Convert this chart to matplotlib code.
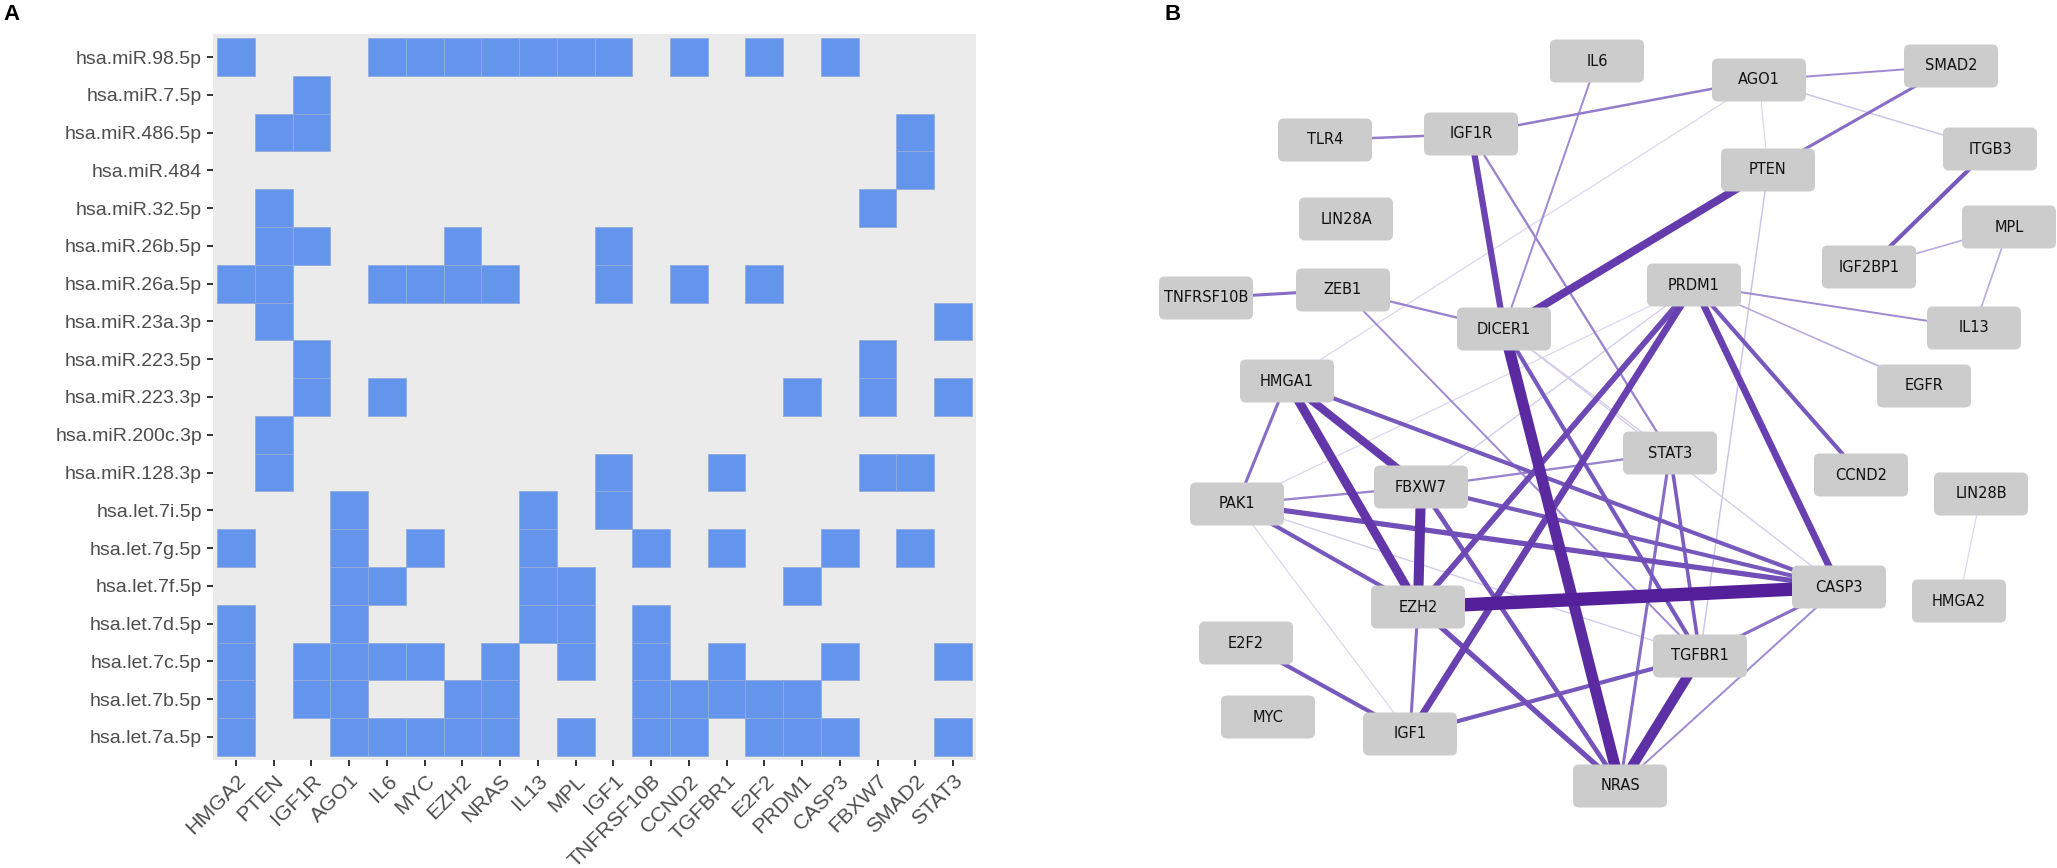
import matplotlib
matplotlib.use("Agg")
import matplotlib.pyplot as plt
from matplotlib.patches import FancyBboxPatch
from matplotlib.colors import LinearSegmentedColormap
import numpy as np

plt.rcParams['font.family'] = ['Liberation Sans', 'DejaVu Sans']

# ---------------- Panel A data ----------------
mirnas = ["hsa.miR.98.5p", "hsa.miR.7.5p", "hsa.miR.486.5p", "hsa.miR.484",
          "hsa.miR.32.5p", "hsa.miR.26b.5p", "hsa.miR.26a.5p", "hsa.miR.23a.3p",
          "hsa.miR.223.5p", "hsa.miR.223.3p", "hsa.miR.200c.3p", "hsa.miR.128.3p",
          "hsa.let.7i.5p", "hsa.let.7g.5p", "hsa.let.7f.5p", "hsa.let.7d.5p",
          "hsa.let.7c.5p", "hsa.let.7b.5p", "hsa.let.7a.5p"]
genes = ["HMGA2", "PTEN", "IGF1R", "AGO1", "IL6", "MYC", "EZH2", "NRAS", "IL13", "MPL",
         "IGF1", "TNFRSF10B", "CCND2", "TGFBR1", "E2F2", "PRDM1", "CASP3", "FBXW7",
         "SMAD2", "STAT3"]
targets = [
    ["HMGA2", "IL6", "MYC", "EZH2", "NRAS", "IL13", "MPL", "IGF1", "CCND2", "E2F2", "CASP3"],
    ["IGF1R"],
    ["PTEN", "IGF1R", "SMAD2"],
    ["SMAD2"],
    ["PTEN", "FBXW7"],
    ["PTEN", "IGF1R", "EZH2", "IGF1"],
    ["HMGA2", "PTEN", "IL6", "MYC", "EZH2", "NRAS", "IGF1", "CCND2", "E2F2"],
    ["PTEN", "STAT3"],
    ["IGF1R", "FBXW7"],
    ["IGF1R", "IL6", "PRDM1", "FBXW7", "STAT3"],
    ["PTEN"],
    ["PTEN", "IGF1", "TGFBR1", "FBXW7", "SMAD2"],
    ["AGO1", "IL13", "IGF1"],
    ["HMGA2", "AGO1", "MYC", "IL13", "TNFRSF10B", "TGFBR1", "CASP3", "SMAD2"],
    ["AGO1", "IL6", "IL13", "MPL", "PRDM1"],
    ["HMGA2", "AGO1", "IL13", "MPL", "TNFRSF10B"],
    ["HMGA2", "IGF1R", "AGO1", "IL6", "MYC", "NRAS", "MPL", "TNFRSF10B", "TGFBR1", "CASP3", "STAT3"],
    ["HMGA2", "IGF1R", "AGO1", "EZH2", "NRAS", "TNFRSF10B", "CCND2", "TGFBR1", "E2F2", "PRDM1"],
    ["HMGA2", "AGO1", "IL6", "MYC", "EZH2", "NRAS", "MPL", "TNFRSF10B", "CCND2", "E2F2", "PRDM1", "CASP3", "STAT3"],
]

# ---------------- Panel B data ----------------
node_names = ["IL6", "AGO1", "SMAD2", "TLR4", "IGF1R", "PTEN", "ITGB3", "LIN28A", "MPL",
              "IGF2BP1", "TNFRSF10B", "ZEB1", "PRDM1", "DICER1", "IL13", "HMGA1", "EGFR",
              "STAT3", "FBXW7", "CCND2", "LIN28B", "PAK1", "CASP3", "HMGA2", "EZH2",
              "E2F2", "TGFBR1", "MYC", "IGF1", "NRAS"]
node_x = [1597, 1759, 1951, 1325, 1471, 1768, 1990, 1346, 2009,
          1869, 1206, 1343, 1694, 1504, 1974, 1287, 1924,
          1670, 1421, 1861, 1981, 1237, 1839, 1959, 1418,
          1246, 1700, 1268, 1410, 1620]
node_y = [61, 80, 66, 140, 134, 170, 149, 219, 227,
          267, 298, 290, 285, 329, 328, 381, 386,
          453, 487, 475, 494, 504, 587, 601, 607,
          643, 656, 717, 734, 786]

edge_src = ["EZH2", "DICER1", "FBXW7", "HMGA1", "TGFBR1", "PTEN", "HMGA1", "PRDM1",
            "IGF1R", "PRDM1", "PRDM1", "EZH2", "FBXW7", "PAK1", "HMGA1", "FBXW7",
            "PAK1", "DICER1", "TGFBR1", "PRDM1", "E2F2", "ITGB3", "SMAD2", "STAT3",
            "STAT3", "TGFBR1", "EZH2", "HMGA1", "TNFRSF10B", "TLR4", "IGF1R", "IGF1R",
            "FBXW7", "PAK1", "ZEB1", "ZEB1", "IL6", "AGO1", "PRDM1", "PRDM1",
            "IGF2BP1", "MPL", "CASP3", "AGO1", "AGO1", "AGO1", "PTEN", "PRDM1",
            "PRDM1", "PAK1", "PAK1", "DICER1", "DICER1", "HMGA2"]
edge_dst = ["CASP3", "NRAS", "EZH2", "EZH2", "NRAS", "DICER1", "FBXW7", "CASP3",
            "DICER1", "IGF1", "EZH2", "NRAS", "NRAS", "CASP3", "CASP3", "CASP3",
            "EZH2", "TGFBR1", "IGF1", "CCND2", "IGF1", "IGF2BP1", "PTEN", "TGFBR1",
            "NRAS", "CASP3", "IGF1", "PAK1", "ZEB1", "IGF1R", "AGO1", "STAT3",
            "STAT3", "FBXW7", "DICER1", "TGFBR1", "DICER1", "SMAD2", "IL13", "EGFR",
            "MPL", "IL13", "NRAS", "ITGB3", "PTEN", "HMGA1", "TGFBR1", "FBXW7",
            "PAK1", "TGFBR1", "IGF1", "CASP3", "STAT3", "LIN28B"]
edge_weight = [12, 10, 9, 8, 9, 7, 7, 6,
               5.5, 6, 5, 4.5, 4, 4.5, 3.5, 3.5,
               3.5, 3.5, 3.5, 3.5, 3.5, 3.5, 2.5, 3,
               2.5, 2.5, 2.5, 2.5, 2.5, 2, 2, 1.8,
               1.8, 1.8, 1.8, 1.5, 1.5, 1.5, 1.5, 1.2,
               1.2, 1.2, 1.5, 1.0, 0.8, 0.8, 1.0, 0.9,
               0.8, 0.9, 0.8, 0.9, 0.9, 0.8]

# ---------------- Figure ----------------
W, H = 2057, 868
fig = plt.figure(figsize=(W / 100, H / 100), dpi=100)

# Panel A heatmap
axA = fig.add_axes([213 / W, 1 - 760 / H, 763 / W, 726 / H])
n_r, n_c = len(mirnas), len(genes)
axA.set_facecolor('#ebebeb')
for i, tl in enumerate(targets):
    cols = [genes.index(g) for g in tl]
    axA.bar(cols, 1.0, bottom=i - 0.5, width=1.0, align='center',
            color='#6495ed', edgecolor='#93abdc', linewidth=0.6, zorder=2)
pad = 0.11
axA.set_xlim(-0.5 - pad, n_c - 0.5 + pad)
axA.set_ylim(n_r - 0.5 + pad, -0.5 - pad)
axA.set_xticks(range(n_c))
axA.set_xticklabels(genes, rotation=45, ha='right', va='top', rotation_mode='anchor',
                    fontsize=15.3)
axA.set_yticks(range(n_r))
axA.set_yticklabels(mirnas, fontsize=14)
for s in axA.spines.values():
    s.set_visible(False)
axA.tick_params(length=4.5, width=1.4, color='#333333',
                labelcolor='#4d4d4d', pad=3.5)

# Panel B network
axB = fig.add_axes([1150 / W, 0, (W - 1150) / W, 1])
axB.set_xlim(1150, W)
axB.set_ylim(H, 0)
axB.axis('off')

cmap = LinearSegmentedColormap.from_list(
    'edges', [(0.0, '#dcd5ee'), (0.06, '#a08cd3'), (0.2, '#7a5cbf'),
              (0.46, '#6940b0'), (1.0, '#54209a')])
wmin, wmax = 0.8, 12.0
pos = {n: (x, y) for n, x, y in zip(node_names, node_x, node_y)}
order = np.argsort(edge_weight)
for k in order:
    a, b, w = edge_src[k], edge_dst[k], edge_weight[k]
    (x1, y1), (x2, y2) = pos[a], pos[b]
    col = cmap((w - wmin) / (wmax - wmin))
    axB.plot([x1, x2], [y1, y2], color=col, lw=w * 0.78 + 0.25,
             solid_capstyle='butt', zorder=1)

bw, bh = 94, 43
for n, x, y in zip(node_names, node_x, node_y):
    axB.add_patch(FancyBboxPatch((x - bw / 2, y - bh / 2), bw, bh,
                                 boxstyle="round,pad=0,rounding_size=6",
                                 fc='#cccccc', ec='none', zorder=3))
    axB.text(x, y, n, ha='center', va='center', fontsize=10.5, color='#111111',
             family='DejaVu Sans', zorder=4)

fig.text(3 / W, 1 - 4 / H, 'A', fontsize=16, weight='bold', ha='left', va='top',
         family='Liberation Sans')
fig.text(1164 / W, 1 - 4 / H, 'B', fontsize=16, weight='bold', ha='left', va='top',
         family='Liberation Sans')

fig.savefig('out.png', dpi=100)
